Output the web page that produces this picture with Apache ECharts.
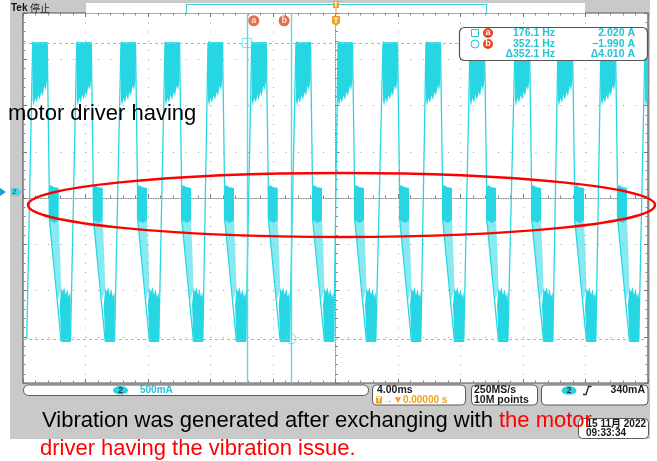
<!DOCTYPE html>
<html>
<head>
<meta charset="utf-8">
<script src="https://cdn.jsdelivr.net/npm/echarts@6/dist/echarts.min.js"></script>
<style>
  html, body { margin: 0; padding: 0; background: #fff; }
  #scope { width: 657px; height: 461px; }
</style>
</head>
<body>
<div id="scope"></div>
<script>
// Channel 2 motor phase current: 4.00 ms/div horizontally, 10 divisions, trigger at t = 0
const timeWindow = [-20, 20];            // ms
const divisionsY = [-4, 4];              // vertical graticule divisions
const ampWindow = [-2.588, 2.425];       // A spanned by the 8 vertical divisions

// start of each positive plateau (ms)
const plateauStarts = [-19.38, -16.56, -13.73, -10.91, -8.16, -5.36, -2.53, 0.16,
                       3.04, 5.79, 8.61, 11.49, 14.24, 16.99, 19.81];

// one commutation cycle: [ms after plateau start, A]
const traceShape = [[-0.38, -2.0], [0, 2.02], [0.93, 2.02], [1.06, 0.05],
                    [1.06, -0.35], [1.82, -2.02], [2.42, -2.02]];

// ripple envelopes within a cycle: [ms after plateau start, A]
const highBand = [[0, 2.046], [0.192, 2.019], [0.928, 2.033], [0.928, 1.518], [0.832, 1.382],
                  [0.736, 1.436], [0.64, 1.301], [0.544, 1.355], [0.448, 1.247], [0.352, 1.314],
                  [0.256, 1.206], [0.16, 1.274], [0.064, 1.165], [0, 1.247]];
const zeroBand = [[1.024, 0.054], [1.152, 0.095], [1.344, 0.068], [1.664, 0.054],
                  [1.664, -0.379], [1.408, -0.42], [1.056, -0.379]];
const slopeBand = [[1.056, -0.379], [1.664, -0.379], [1.76, -0.854], [1.824, -1.328],
                   [1.6, -1.463], [1.344, -0.921]];
const lowBand = [[1.728, -1.531], [1.824, -1.301], [1.92, -1.355], [2.016, -1.287], [2.112, -1.396],
                 [2.208, -1.314], [2.304, -1.423], [2.4, -1.355], [2.432, -1.463], [2.432, -2.033],
                 [1.824, -2.033]];

// cursors a / b
const cursorNames = ['a', 'b'];
const cursorTimes = [-5.679, -2.840];    // ms
const cursorLevels = [2.020, -1.990];    // A
const readoutFreq = ['176.1 Hz', '352.1 Hz', 'Δ352.1 Hz'];
const readoutAmp = ['2.020 A', '−1.990 A', 'Δ4.010 A'];

// status bar
const vertScale = '500mA';
const horizScale = '4.00ms';
const triggerPos = '→▼0.00000 s';
const sampleRate = '250MS/s';
const recordLen = '10M points';
const triggerLevel = '340mA';
const stampDate = '15 11月 2022';
const stampTime = '09:33:34';

const captionLine1a = 'Vibration was generated after exchanging with ';
const captionLine1b = 'the motor';
const captionLine2 = 'driver having the vibration issue.';
const overlayText = 'motor driver having';

const TRACE = '#26d7e3';
const CURSOR = '#5cd8e2';
const SCOPE_TEXT = '#25c4d2';
const FONT = '"Liberation Sans", Arial, "Noto Sans CJK SC", sans-serif';

const traceData = [];
plateauStarts.forEach(s => traceShape.forEach(([dt, a]) => traceData.push([+(s + dt).toFixed(3), a])));

const chart = echarts.init(document.getElementById('scope'));

function label(x, y, text, extra) {
  return { type: 'text', x, y, z: 50,
    style: Object.assign({ text, font: 'bold 10px ' + FONT, fill: '#1a1a1a',
      align: 'left', verticalAlign: 'middle' }, extra || {}) };
}
function box(x, y, w, h, r, extra) {
  return { type: 'rect', z: 40, shape: { x, y, width: w, height: h, r },
    style: Object.assign({ fill: '#fff', stroke: '#5a5a5a', lineWidth: 1 }, extra || {}) };
}

const edgeAxis = {
  type: 'value', min: timeWindow[0], max: timeWindow[1], interval: 4,
  axisLabel: { show: false },
  axisLine: { show: false, onZero: false },
  axisTick: { show: true, inside: true, length: 4, lineStyle: { color: '#777' } },
  minorTick: { show: true, splitNumber: 5, length: 2.5, lineStyle: { color: '#888' } },
  splitLine: { show: false }
};
const edgeAxisY = Object.assign({}, edgeAxis, { min: divisionsY[0], max: divisionsY[1], interval: 1 });

chart.setOption({
  animation: false,
  backgroundColor: '#fff',
  grid: [
    { left: 23, top: 13, width: 625, height: 370, show: true, backgroundColor: '#fff',
      borderColor: '#555', borderWidth: 1.2 },
    { left: 23, top: 13, width: 625, height: 370, show: false }
  ],
  xAxis: [
    Object.assign({}, edgeAxis, { gridIndex: 0, position: 'bottom',
      splitLine: { show: true, lineStyle: { color: '#a2a2a2', type: [1, 8.25], width: 1 } } }),
    Object.assign({}, edgeAxis, { gridIndex: 0, position: 'top' }),
    Object.assign({}, edgeAxis, { gridIndex: 1,
      axisLine: { show: true, onZero: true, lineStyle: { color: '#8a8a8a', type: [1, 1.5] } },
      axisTick: { show: true, inside: true, length: 4, lineStyle: { color: '#777' } } })
  ],
  yAxis: [
    { gridIndex: 0, type: 'value', min: ampWindow[0], max: ampWindow[1], show: false },
    Object.assign({}, edgeAxisY, { gridIndex: 0, position: 'left',
      splitLine: { show: true, lineStyle: { color: '#a2a2a2', type: [1, 11.5], width: 1 } } }),
    Object.assign({}, edgeAxisY, { gridIndex: 0, position: 'right' }),
    Object.assign({}, edgeAxisY, { gridIndex: 1,
      axisLine: { show: true, onZero: true, lineStyle: { color: '#8a8a8a', type: [1, 1.5] } },
      axisTick: { show: true, inside: true, length: 4, lineStyle: { color: '#777' } } })
  ],
  series: [
    {
      name: 'ripple', type: 'custom', xAxisIndex: 0, yAxisIndex: 0, clip: true, z: 3,
      data: plateauStarts.map(s => [s, 0]),
      encode: { x: 0, y: 1 },
      renderItem(params, api) {
        const s = api.value(0);
        const poly = (shape, opacity) => ({
          type: 'polygon',
          shape: { points: shape.map(([dt, a]) => api.coord([s + dt, a])) },
          style: { fill: TRACE, opacity }
        });
        return { type: 'group', children: [
          poly(highBand, 1), poly(zeroBand, 1), poly(slopeBand, 0.55), poly(lowBand, 1)
        ] };
      }
    },
    {
      name: 'Ch2', type: 'line', xAxisIndex: 0, yAxisIndex: 0, data: traceData,
      showSymbol: false, symbol: 'none', clip: true, z: 4,
      lineStyle: { color: TRACE, width: 1.3 },
      markLine: {
        silent: true, symbol: 'none', label: { show: false }, animation: false,
        data: [
          ...cursorTimes.map(t => ({ xAxis: t, lineStyle: { color: CURSOR, type: 'solid', width: 1.4 } })),
          ...cursorLevels.map(v => ({ yAxis: v, lineStyle: { color: CURSOR, type: [3, 3], width: 1 } }))
        ]
      }
    },
    {
      name: 'cursor a', type: 'scatter', xAxisIndex: 0, yAxisIndex: 0, z: 6,
      data: [[cursorTimes[0], cursorLevels[0]]], symbol: 'rect', symbolSize: 9,
      itemStyle: { color: 'transparent', borderColor: CURSOR, borderWidth: 1 }
    },
    {
      name: 'cursor b', type: 'scatter', xAxisIndex: 0, yAxisIndex: 0, z: 6,
      data: [[cursorTimes[1], cursorLevels[1]]], symbol: 'circle', symbolSize: 10,
      itemStyle: { color: 'transparent', borderColor: CURSOR, borderWidth: 1 }
    },
    {
      name: 'cursor tags', type: 'scatter', xAxisIndex: 0, yAxisIndex: 0, z: 7,
      data: cursorTimes.map((t, i) => ({
        value: [t, ampWindow[1] - 0.105],
        symbolOffset: [i === 0 ? 7 : -7, 0],
        label: { show: true, formatter: cursorNames[i], color: '#fff', fontSize: 9,
                 fontWeight: 'bold', position: 'inside' }
      })),
      symbol: 'circle', symbolSize: 11,
      itemStyle: { color: '#e5481e' }
    }
  ],
  graphic: [
    // instrument bezel
    { type: 'rect', z: -10, shape: { x: 10, y: 0, width: 640, height: 439 }, style: { fill: '#c9c9c9' } },
    // record view strip
    { type: 'rect', z: 1, shape: { x: 86, y: 3, width: 499, height: 10 }, style: { fill: '#fff' } },
    { type: 'polyline', z: 2, shape: { points: [[186.5, 13], [186.5, 4.5], [486.5, 4.5], [486.5, 13]] },
      style: { stroke: '#3fcfdc', lineWidth: 1.2, fill: null } },
    label(11, 8, 'Tek', { font: 'bold 10px ' + FONT, fill: '#111' }),
    label(30, 8, '停止', { font: '10px "Noto Sans CJK SC", sans-serif', fill: '#222' }),
    // trigger position markers
    { type: 'rect', z: 3, shape: { x: 333, y: 1, width: 6, height: 7 }, style: { fill: '#f0a21c' } },
    label(336, 4.6, 'T', { font: 'bold 7px ' + FONT, fill: '#fff', align: 'center' }),
    { type: 'line', z: 3, shape: { x1: 336, y1: 8, x2: 336, y2: 15 }, style: { stroke: '#f0a21c', lineWidth: 1 } },
    { type: 'polygon', z: 8, shape: { points: [[332, 16], [340, 16], [340, 23], [336, 26], [332, 23]] },
      style: { fill: '#f0a21c' } },
    label(336, 20.5, 'T', { font: 'bold 8px ' + FONT, fill: '#fff', align: 'center' }),
    // channel 2 ground reference
    { type: 'polygon', z: 3, shape: { points: [[0, 188], [6, 192], [0, 196]] }, style: { fill: '#1a9be0' } },
    { type: 'polygon', z: 3, shape: { points: [[11, 188], [18, 188], [22, 192], [18, 196], [11, 196]] },
      style: { fill: '#55d4df' } },
    label(14.5, 192.2, '2', { font: 'bold 8px ' + FONT, fill: '#177f8a', align: 'center' }),
    // cursor readout
    box(459.5, 27.5, 188, 33, 5, { stroke: '#555', lineWidth: 1.2 }),
    { type: 'rect', z: 45, shape: { x: 471.5, y: 29.5, width: 7, height: 7 },
      style: { fill: 'transparent', stroke: SCOPE_TEXT, lineWidth: 1 } },
    { type: 'circle', z: 45, shape: { cx: 475, cy: 44, r: 4 },
      style: { fill: 'transparent', stroke: SCOPE_TEXT, lineWidth: 1 } },
    { type: 'circle', z: 45, shape: { cx: 488, cy: 33, r: 5 }, style: { fill: '#e5481e' } },
    { type: 'circle', z: 45, shape: { cx: 488, cy: 44, r: 5 }, style: { fill: '#e5481e' } },
    label(488, 33, cursorNames[0], { align: 'center', fill: '#fff', font: 'bold 9px ' + FONT }),
    label(488, 44, cursorNames[1], { align: 'center', fill: '#fff', font: 'bold 9px ' + FONT }),
    ...readoutFreq.map((t, i) => label(555, 33 + i * 10.7, t, { align: 'right', fill: SCOPE_TEXT, font: 'bold 10.5px ' + FONT })),
    ...readoutAmp.map((t, i) => label(635, 33 + i * 10.7, t, { align: 'right', fill: SCOPE_TEXT, font: 'bold 10.5px ' + FONT })),
    // status bar
    box(23.5, 385, 345, 10.5, 5),
    { type: 'ellipse', z: 45, shape: { cx: 120.5, cy: 390.2, rx: 7.5, ry: 4.3 }, style: { fill: '#2fcfdc' } },
    label(120.5, 390.4, '2', { align: 'center', fill: '#0d3d44', font: 'bold 8.5px ' + FONT }),
    label(140, 390.4, vertScale, { fill: SCOPE_TEXT, font: 'bold 10px ' + FONT }),
    box(372.5, 385, 93, 20, 4),
    label(377, 390.5, horizScale, { font: 'bold 10.5px ' + FONT }),
    { type: 'rect', z: 45, shape: { x: 376, y: 396.5, width: 6, height: 7 }, style: { fill: '#f0a21c' } },
    label(379, 400.2, 'T', { align: 'center', fill: '#fff', font: 'bold 7px ' + FONT }),
    label(383, 400.3, triggerPos, { fill: '#f0a21c', font: 'bold 10px ' + FONT }),
    box(471.5, 385, 66, 20, 4),
    label(474, 390.5, sampleRate, { font: 'bold 10.5px ' + FONT }),
    label(474, 400.5, recordLen, { font: 'bold 10.5px ' + FONT }),
    box(541.5, 385, 106.5, 20, 4),
    { type: 'ellipse', z: 45, shape: { cx: 569, cy: 390.5, rx: 7.5, ry: 4.3 }, style: { fill: '#2fcfdc' } },
    label(569, 390.7, '2', { align: 'center', fill: '#0d3d44', font: 'bold 8.5px ' + FONT }),
    { type: 'polyline', z: 45, shape: { points: [[583, 394.5], [586, 394.5], [588.5, 386.5], [591.5, 386.5]] },
      style: { stroke: '#222', lineWidth: 1.3, fill: null } },
    label(645, 390.5, triggerLevel, { align: 'right', font: 'bold 10.5px ' + FONT }),
    // time stamp
    box(578.5, 418.5, 70, 20, 4),
    label(646, 424, stampDate, { align: 'right', font: 'bold 10px ' + FONT }),
    label(586, 433.5, stampTime, { font: 'bold 10px ' + FONT }),
    // highlight around the zero-current plateaus
    { type: 'ellipse', z: 60, shape: { cx: 341.5, cy: 205, rx: 313.5, ry: 32 },
      style: { fill: 'transparent', stroke: '#ff0000', lineWidth: 2.5 } },
    // annotations
    { type: 'text', z: 70, x: 8, y: 114,
      style: { text: overlayText, font: '22px ' + FONT, fill: '#000', verticalAlign: 'middle' } },
    { type: 'text', z: 70, x: 42, y: 421,
      style: { text: '{k|' + captionLine1a + '}{r|' + captionLine1b + '}', font: '22px ' + FONT,
        verticalAlign: 'middle',
        rich: { k: { fill: '#000', fontSize: 22, fontFamily: FONT },
                r: { fill: '#ff0000', fontSize: 22, fontFamily: FONT } } } },
    { type: 'text', z: 70, x: 40, y: 449,
      style: { text: captionLine2, font: '22px ' + FONT, fill: '#ff0000', verticalAlign: 'middle' } }
  ]
});
</script>
</body>
</html>
